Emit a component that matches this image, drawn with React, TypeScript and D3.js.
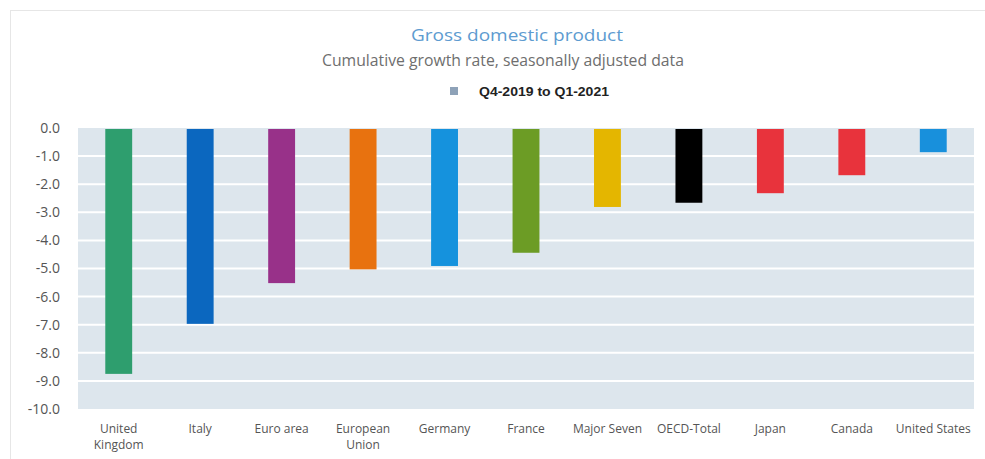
import React from "react";
import * as d3 from "d3";

const categories = ["United Kingdom", "Italy", "Euro area", "European Union", "Germany", "France", "Major Seven", "OECD-Total", "Japan", "Canada", "United States"];
const labelLines = [["United", "Kingdom"], ["Italy"], ["Euro area"], ["European", "Union"], ["Germany"], ["France"], ["Major Seven"], ["OECD-Total"], ["Japan"], ["Canada"], ["United States"]];
const values = [-8.75, -6.97, -5.52, -5.03, -4.91, -4.44, -2.81, -2.66, -2.32, -1.68, -0.86];
const colors = ["#2e9e6e", "#0b67bf", "#983189", "#e8720f", "#1592dd", "#6c9c25", "#e4b600", "#000000", "#e8333c", "#e8333c", "#1890dc"];
const yTicks = [0, -1, -2, -3, -4, -5, -6, -7, -8, -9, -10];

export default function App() {
  const W = 985, H = 459;
  const left = 78, right = 974, top = 128, bottom = 409;
  const x = d3.scaleBand().domain(categories).range([left, right]).paddingInner(0.67).paddingOuter(0.335);
  const y = d3.scaleLinear().domain([0, -10]).range([top, bottom]);
  return (
    <svg width={W} height={H} style={{ position: "absolute", left: 0, top: 0, background: "#fff" }}>
      <rect x={10.5} y={10.5} width={W + 10} height={H + 10} fill="none" stroke="#e6e6e6" />
      <rect x={left} y={top} width={right - left} height={bottom - top} fill="#dde6ed" />
      {yTicks.slice(1, -1).map((t) => (
        <line key={t} x1={left} x2={right} y1={y(t)} y2={y(t)} stroke="#ffffff" strokeWidth={2} />
      ))}
      {categories.map((c, i) => (
        <rect key={c} x={x(c)} y={y(0) + 1} width={x.bandwidth()} height={y(values[i]) - y(0) - 1} fill={colors[i]} />
      ))}
      {yTicks.map((t) => (
        <text key={t} x={60} y={y(t)} dy="0.35em" textAnchor="end" fontFamily="'Open Sans', sans-serif" fontSize={14} fill="#555">
          {d3.format(".1f")(t).replace("−", "-")}
        </text>
      ))}
      {categories.map((c, i) => (
        <text key={c} x={(x(c) as number) + x.bandwidth() / 2} y={433} textAnchor="middle" fontFamily="'Open Sans', sans-serif" fontSize={12} fill="#555">
          {labelLines[i].map((l, j) => (
            <tspan key={j} x={(x(c) as number) + x.bandwidth() / 2} dy={j === 0 ? 0 : 16}>{l}</tspan>
          ))}
        </text>
      ))}
      <text x={517} y={41} textAnchor="middle" fontFamily="'Open Sans', sans-serif" fontSize={17} textLength={212} lengthAdjust="spacingAndGlyphs" fill="#5d9bd0">Gross domestic product</text>
      <text x={503} y={66} textAnchor="middle" fontFamily="'Open Sans', sans-serif" fontSize={15.5} textLength={362} lengthAdjust="spacingAndGlyphs" fill="#6e6e6e">Cumulative growth rate, seasonally adjusted data</text>
      <rect x={450} y={87} width={8} height={8} fill="#8ea2b8" />
      <text x={479} y={95.5} fontFamily="'Liberation Sans', Arial, sans-serif" fontSize={12.5} fontWeight="bold" textLength={130} lengthAdjust="spacingAndGlyphs" fill="#222">Q4-2019 to Q1-2021</text>
    </svg>
  );
}
